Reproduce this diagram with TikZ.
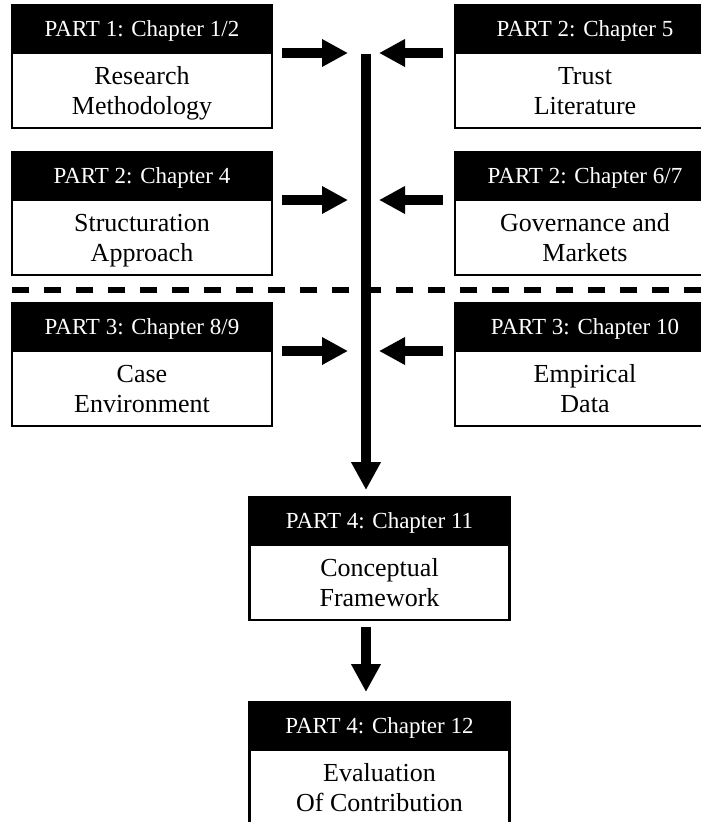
\documentclass[tikz,border=0pt]{standalone}
\usepackage{fontspec}
\setmainfont{Liberation Serif}
\usetikzlibrary{arrows.meta, positioning}

\newcommand{\headfont}{\fontsize{23}{27}\selectfont}
\newcommand{\bodyfont}{\fontsize{26}{30}\selectfont}

\begin{document}
\begin{tikzpicture}[
  x=1pt, y=1pt,
  chaphead/.style={rectangle, draw, line width=2.5pt, fill=black, text=white,
                   minimum width=260pt, minimum height=48pt, inner sep=0pt,
                   outer sep=0pt, text depth=0pt, font=\headfont},
  chapbody/.style={rectangle, draw, line width=2.5pt, fill=white,
                   minimum width=260pt, minimum height=75pt, inner sep=0pt,
                   outer sep=0pt, text depth=0pt, align=center, font=\bodyfont},
  feed/.style={line width=10pt, -{Triangle[width=26pt, length=26pt]}},
  flow/.style={line width=10pt, -{Triangle[width=28pt, length=28pt]}},
]
  \useasboundingbox (0,0) rectangle (701,-822);

  % parts 1-3, left column
  \node[chaphead] (h1) at (142,-29) {PART 1: Chapter 1/2};
  \node[chapbody, below=0pt of h1] (b1) {Research\\Methodology};
  \node[chaphead] (h3) at (142,-176) {PART 2: Chapter 4};
  \node[chapbody, below=0pt of h3] (b3) {Structuration\\Approach};
  \node[chaphead] (h5) at (142,-327) {PART 3: Chapter 8/9};
  \node[chapbody, below=0pt of h5] (b5) {Case\\Environment};

  % parts 2-3, right column
  \node[chaphead] (h2) at (585,-29) {PART 2: Chapter 5};
  \node[chapbody, below=0pt of h2] (b2) {Trust\\Literature};
  \node[chaphead] (h4) at (585,-176) {PART 2: Chapter 6/7};
  \node[chapbody, below=0pt of h4] (b4) {Governance and\\Markets};
  \node[chaphead] (h6) at (585,-327) {PART 3: Chapter 10};
  \node[chapbody, below=0pt of h6] (b6) {Empirical\\Data};

  % part 4
  \node[chaphead] (h7) at (379.5,-521) {PART 4: Chapter 11};
  \node[chapbody, below=0pt of h7] (b7) {Conceptual\\Framework};
  \node[chaphead] (h8) at (379.5,-726) {PART 4: Chapter 12};
  \node[chapbody, below=0pt of h8] (b8) {Evaluation\\Of Contribution};

  % divider between part 2 and part 3
  \draw[line width=6pt, dash pattern=on 17pt off 15pt] (12,-290) -- (701,-290);

  % spine
  \coordinate (top) at (366,-54);
  \coordinate (hub1) at (h1.south -| top);
  \coordinate (hub3) at (h3.south -| top);
  \coordinate (hub5) at (h5.south -| top);

  \draw[feed, shorten >=18pt] ([xshift=10pt]h1.south east) -- (hub1);
  \draw[feed, shorten >=13pt] ([xshift=-12pt]h2.south west) -- (hub1);
  \draw[feed, shorten >=18pt] ([xshift=10pt]h3.south east) -- (hub3);
  \draw[feed, shorten >=13pt] ([xshift=-12pt]h4.south west) -- (hub3);
  \draw[feed, shorten >=18pt] ([xshift=10pt]h5.south east) -- (hub5);
  \draw[feed, shorten >=13pt] ([xshift=-12pt]h6.south west) -- (hub5);

  \draw[flow, shorten >=7pt] (top) -- (top |- h7.north);
  \draw[flow, shorten <=7pt, shorten >=10pt] (top |- b7.south) -- (top |- h8.north);
\end{tikzpicture}
\end{document}
